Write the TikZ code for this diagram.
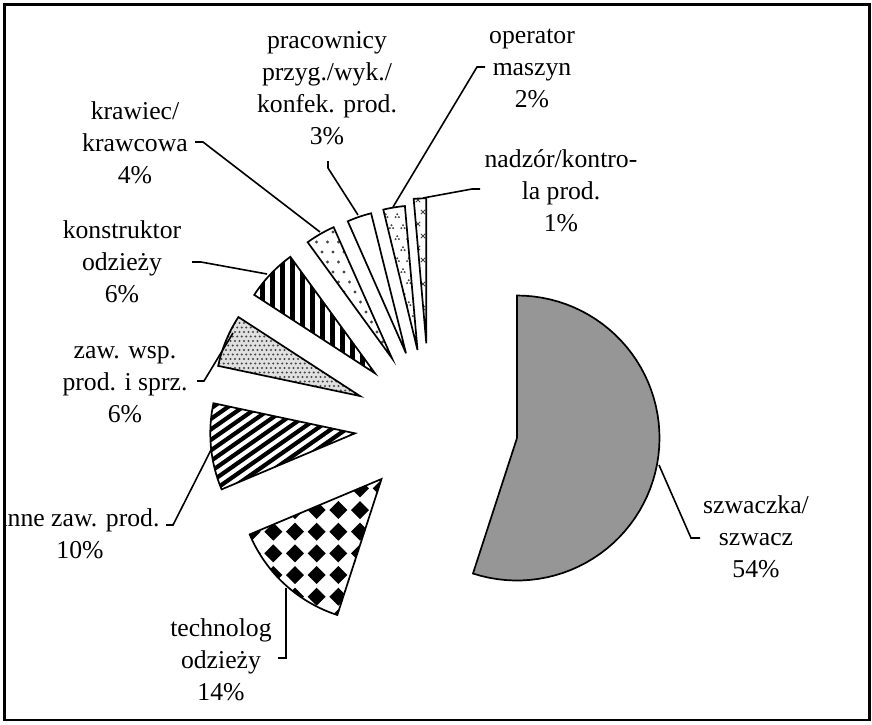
\documentclass[tikz,border=0pt]{standalone}
\usepackage{fontspec}
\setmainfont{Liberation Serif}
\definecolor{pieGray}{RGB}{150,150,150}
\definecolor{dotGray}{RGB}{70,70,70}
\newcommand\slicepath[5]{(#1,#2) -- plot[domain=#3:#4, samples=60] ({#1+#5*cos(\x)},{#2-#5*sin(\x)}) -- cycle}
\begin{document}
\begin{tikzpicture}[x=1pt,y=-1pt,
  lbl/.style={align=center, font=\fontsize{25.7}{32}\selectfont, inner sep=0pt, anchor=north},
  slice/.style={draw=black, line width=1.7pt, line join=miter},
  leader/.style={draw=black, line width=1.6pt},
]
\useasboundingbox (0,0) rectangle (872,724);
\fill[white] (0,0) rectangle (872,724);

% szwaczka
\draw[slice, fill=pieGray] \slicepath{517}{438}{-108}{90}{142.5};

% technolog - diamonds
\begin{scope}
\clip \slicepath{381.5}{479}{202.8}{252}{143};
\foreach \i in {-3,...,6} \foreach \j in {-3,...,5} {
  \fill ({273.3+21.67*\i-9},{531.7+21.67*\j}) -- ++(9,-9) -- ++(9,9) -- ++(-9,9) -- cycle;
}
\end{scope}
\draw[slice] \slicepath{381.5}{479}{202.8}{252}{143};

% inne - diagonal stripes
\begin{scope}
\clip \slicepath{355}{433.3}{168}{202.8}{144.7};
\foreach \k in {-11,...,7} {
  \draw[line width=4.2pt] ({200+15*\k-150},{500+105}) -- ({200+15*\k+150},{500-105});
}
\end{scope}
\draw[slice] \slicepath{355}{433.3}{168}{202.8}{144.7};

% zaw - fine dots
\begin{scope}
\clip \slicepath{360}{396}{147}{168}{145};
\fill[white!88!black] (200,300) rectangle (370,400);
\foreach \xx in {0,...,36} \foreach \yy in {0,...,22} {
  \fill[dotGray] ({208+4.5*\xx+2.25*mod(\yy,2)},{305+4.5*\yy}) circle (1.1);
}
\end{scope}
\draw[slice] \slicepath{360}{396}{147}{168}{145};

% konstruktor - vertical stripes
\begin{scope}
\clip \slicepath{375}{373.3}{126}{147}{144};
\foreach \k in {0,...,14} { \fill (250+10*\k,240) rectangle ++(4.6,140); }
\end{scope}
\draw[slice] \slicepath{375}{373.3}{126}{147}{144};

% krawiec - sparse dots
\begin{scope}
\clip \slicepath{392}{358.3}{114}{126}{143.5};
\foreach \xx in {0,...,10} \foreach \yy in {0,...,15} {
  \fill[dotGray] ({300+11*\xx+5.5*mod(\yy,2)},{212+10*\yy}) circle (1.6);
}
\end{scope}
\draw[slice] \slicepath{392}{358.3}{114}{126}{143.5};

% pracownicy - white
\draw[slice, fill=white] \slicepath{406}{353.3}{104}{113.8}{144.3};

% operator - clusters
\begin{scope}
\clip \slicepath{417.5}{350}{95}{103.7}{144.5};
\foreach \xx in {0,...,4} \foreach \yy in {0,...,13} {
  \fill[dotGray] ({380+11.5*\xx+5.75*mod(\yy,2)},{205+11*\yy-1.8}) circle (1.1);
  \fill[dotGray] ({380+11.5*\xx+5.75*mod(\yy,2)-1.7},{205+11*\yy+1.1}) circle (1.1);
  \fill[dotGray] ({380+11.5*\xx+5.75*mod(\yy,2)+1.7},{205+11*\yy+1.1}) circle (1.1);
}
\end{scope}
\draw[slice] \slicepath{417.5}{350}{95}{103.7}{144.5};

% nadzor - small crosses
\begin{scope}
\clip \slicepath{426.3}{343.3}{90}{95}{145};
\foreach \xx in {0,...,3} \foreach \yy in {0,...,12} {
  \draw[dotGray, line width=1pt] ({408+10*\xx+5*mod(\yy,2)-2.2},{200+12*\yy-2.2}) -- ++(4.4,4.4)
        ({408+10*\xx+5*mod(\yy,2)-2.2},{200+12*\yy+2.2}) -- ++(4.4,-4.4);
}
\end{scope}
\draw[slice] \slicepath{426.3}{343.3}{90}{95}{145};

% labels
\begin{scope}
\clip (5.6,0) rectangle (872,724);
\node[lbl] (Lprac) at (327,25.6) {\strut pracownicy\\przyg./wyk./\\konfek. prod.\\3\%};
\node[lbl] (Loper) at (532,20.6) {\strut operator\\maszyn\\2\%};
\node[lbl] (Lnadz) at (561,144.6) {\strut nadzór/kontro-\\la prod.\\1\%};
\node[lbl] (Lkraw) at (135,96.6) {\strut krawiec/\\krawcowa\\4\%};
\node[lbl] (Lkonstr) at (122,215.6) {\strut konstruktor\\odzieży\\6\%};
\node[lbl] (Lzaw) at (125,335.6) {\strut zaw. wsp.\\prod. i sprz.\\6\%};
\node[lbl] (Linne) at (80,503.6) {\strut inne zaw. prod.\\10\%};
\node[lbl] (Ltech) at (221,613.6) {\strut technolog\\odzieży\\14\%};
\node[lbl] (Lszw) at (756,490.6) {\strut szwaczka/\\szwacz\\54\%};
\end{scope}

% leader coordinates
\coordinate (prA) at (328,161); \coordinate (prB) at (328,168); \coordinate (prC) at (358,215);
\coordinate (opA) at (485,67);  \coordinate (opB) at (477,67);  \coordinate (opC) at (393,207);
\coordinate (naA) at (480,189); \coordinate (naB) at (472,189); \coordinate (naC) at (423,198);
\coordinate (krA) at (195,142); \coordinate (krB) at (203,142); \coordinate (krC) at (320,232);
\coordinate (koA) at (192,262); \coordinate (koB) at (201,262); \coordinate (koC) at (267,274);
\coordinate (zaA) at (197,381); \coordinate (zaB) at (204,381); \coordinate (zaC) at (233,333);
\coordinate (inA) at (166,525); \coordinate (inB) at (173,525); \coordinate (inC) at (212,448);
\coordinate (teA) at (278,658); \coordinate (teB) at (286,658); \coordinate (teC) at (286,588);
\coordinate (szA) at (700,538); \coordinate (szB) at (691,538); \coordinate (szC) at (659,465);

\draw[leader] (prA) -- (prB) -- (prC);
\draw[leader] (opA) -- (opB) -- (opC);
\draw[leader] (naA) -- (naB) -- (naC);
\draw[leader] (krA) -- (krB) -- (krC);
\draw[leader] (koA) -- (koB) -- (koC);
\draw[leader] (zaA) -- (zaB) -- (zaC);
\draw[leader] (inA) -- (inB) -- (inC);
\draw[leader] (teA) -- (teB) -- (teC);
\draw[leader] (szA) -- (szB) -- (szC);

% frame
\draw[line width=2.2pt] (4.5,4.5) rectangle (869.5,720);
\end{tikzpicture}
\end{document}
